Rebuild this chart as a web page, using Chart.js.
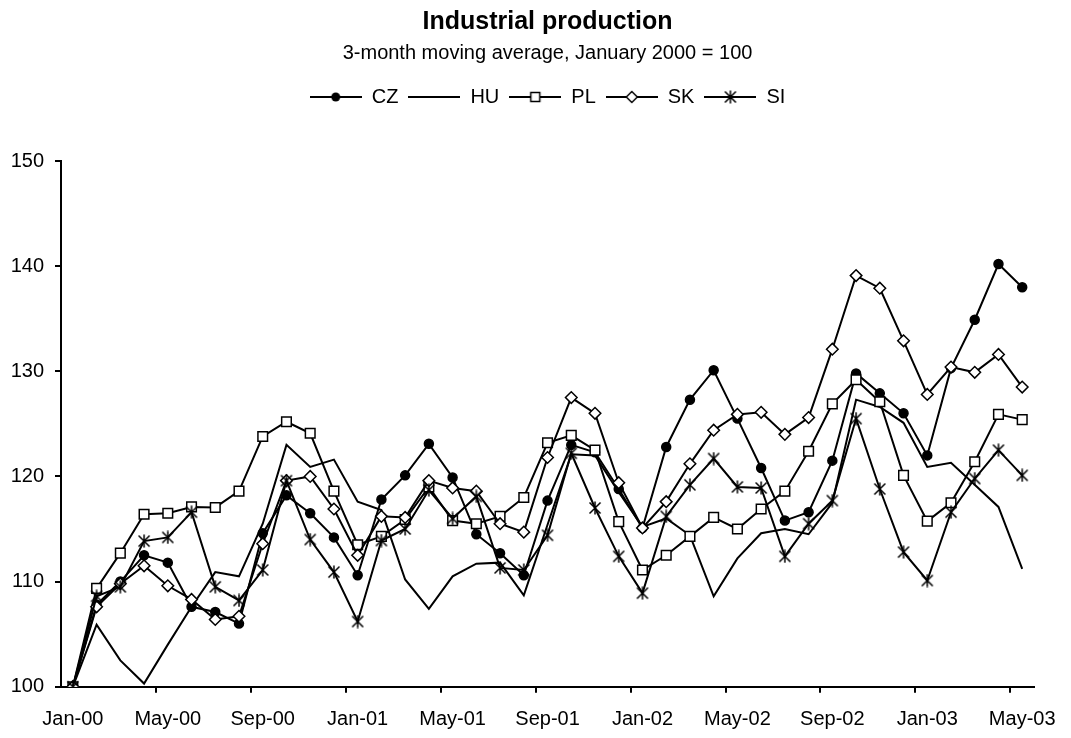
<!DOCTYPE html>
<html>
<head>
<meta charset="utf-8">
<title>Industrial production</title>
<script src="https://cdn.jsdelivr.net/npm/chart.js@4/dist/chart.umd.min.js"></script>
<style>
  html, body { margin: 0; padding: 0; background: #fff; }
  canvas { display: block; }
</style>
</head>
<body>
<canvas id="chart" width="1071" height="738"></canvas>
<script>
// months, Jan 2000 - May 2003
const months = [
  'Jan-00', 'Feb-00', 'Mar-00', 'Apr-00', 'May-00', 'Jun-00', 'Jul-00', 'Aug-00', 'Sep-00', 'Oct-00', 'Nov-00', 'Dec-00',
  'Jan-01', 'Feb-01', 'Mar-01', 'Apr-01', 'May-01', 'Jun-01', 'Jul-01', 'Aug-01', 'Sep-01', 'Oct-01', 'Nov-01', 'Dec-01',
  'Jan-02', 'Feb-02', 'Mar-02', 'Apr-02', 'May-02', 'Jun-02', 'Jul-02', 'Aug-02', 'Sep-02', 'Oct-02', 'Nov-02', 'Dec-02',
  'Jan-03', 'Feb-03', 'Mar-03', 'Apr-03', 'May-03'
];

const cz = [100, 107.8, 110.0, 112.5, 111.8, 107.6, 107.1, 106.0, 114.6, 118.2, 116.5, 114.2,
  110.6, 117.8, 120.1, 123.1, 119.9, 114.5, 112.7, 110.6, 117.7, 123.0, 122.3, 118.8,
  115.1, 122.8, 127.3, 130.1, 125.5, 120.8, 115.8, 116.6, 121.5, 129.8, 127.9, 126.0,
  122.0, 130.3, 134.9, 140.2, 138.0];
const hu = [100, 105.9, 102.5, 100.3, 104.0, 107.6, 110.9, 110.5, 115.5, 123.0, 120.9, 121.6,
  117.6, 116.8, 110.2, 107.4, 110.5, 111.7, 111.8, 108.7, 115.4, 122.1, 122.0, 118.5,
  115.2, 116.0, 114.4, 108.6, 112.2, 114.6, 115.0, 114.5, 117.5, 127.3, 126.6, 125.1,
  120.9, 121.3, 119.2, 117.1, 111.2];
const pl = [100, 109.35, 112.7, 116.4, 116.5, 117.1, 117.05, 118.6, 123.8, 125.2, 124.1, 118.6,
  113.5, 114.3, 115.9, 119.0, 115.8, 115.5, 116.2, 118.0, 123.2, 123.9, 122.5, 115.7,
  111.1, 112.5, 114.3, 116.1, 115.0, 116.9, 118.6, 122.4, 126.9, 129.2, 127.1, 120.1,
  115.75, 117.5, 121.4, 125.9, 125.4];
const sk = [100, 107.6, 109.8, 111.5, 109.6, 108.3, 106.4, 106.7, 113.6, 119.6, 120.0, 116.9,
  112.5, 116.2, 116.1, 119.6, 118.9, 118.6, 115.5, 114.7, 121.8, 127.5, 126.0, 119.4,
  115.1, 117.6, 121.2, 124.4, 125.9, 126.1, 124.0, 125.6, 132.1, 139.1, 137.9, 132.9,
  127.8, 130.4, 129.9, 131.6, 128.5];
const si = [100, 108.6, 109.5, 113.85, 114.2, 116.6, 109.5, 108.2, 111.1, 119.6, 114.0, 110.9,
  106.2, 113.9, 115.0, 118.7, 116.0, 118.1, 111.3, 111.1, 114.4, 122.2, 117.0, 112.4,
  108.9, 116.2, 119.2, 121.7, 119.0, 118.9, 112.4, 115.5, 117.7, 125.5, 118.8, 112.8,
  110.1, 116.6, 119.8, 122.5, 120.1];

const seriesNames = ['CZ', 'HU', 'PL', 'SK', 'SI'];
const markers = ['circle', false, 'rect', 'rectRot', 'star'];

Chart.defaults.font.family = '"Liberation Sans", Arial, sans-serif';
Chart.defaults.font.size = 20;
Chart.defaults.color = '#000';

// excel style star: vertical bar plus an X
function starMark() {
  const c = document.createElement('canvas');
  c.width = 14;
  c.height = 14;
  const g = c.getContext('2d');
  g.strokeStyle = '#000';
  g.lineWidth = 1.5;
  g.beginPath();
  g.moveTo(7, 0.5); g.lineTo(7, 13.5);
  g.moveTo(1.5, 1.5); g.lineTo(12.5, 12.5);
  g.moveTo(12.5, 1.5); g.lineTo(1.5, 12.5);
  g.stroke();
  return c;
}
const star = starMark();

// legend icon: a short line with the marker in the middle
function legendIcon(style) {
  const c = document.createElement('canvas');
  c.width = 52;
  c.height = 16;
  const g = c.getContext('2d');
  g.strokeStyle = '#000';
  g.lineWidth = 2;
  g.beginPath();
  g.moveTo(0, 8);
  g.lineTo(52, 8);
  g.stroke();
  g.lineWidth = 1.5;
  if (style === 'circle') {
    g.fillStyle = '#000';
    g.beginPath();
    g.arc(26, 8, 4.5, 0, Math.PI * 2);
    g.fill();
  } else if (style === 'rect') {
    g.fillStyle = '#fff';
    g.fillRect(21.5, 3.5, 9, 9);
    g.strokeRect(21.5, 3.5, 9, 9);
  } else if (style === 'rectRot') {
    g.fillStyle = '#fff';
    g.beginPath();
    g.moveTo(20.5, 8); g.lineTo(26, 2.5); g.lineTo(31.5, 8); g.lineTo(26, 13.5);
    g.closePath();
    g.fill();
    g.stroke();
  } else if (style === 'star') {
    g.drawImage(star, 19, 1);
  }
  return c;
}

const icons = markers.map(legendIcon);

// extra room between legend and plot
const legendGap = {
  id: 'legendGap',
  beforeInit(chart) {
    const fit = chart.legend.fit;
    chart.legend.fit = function () {
      fit.call(this);
      this.height += 44;
    };
  }
};

function series(i, values, radius, fill) {
  let style = markers[i] || 'circle';
  if (style === 'star') style = star;
  return {
    label: seriesNames[i],
    data: values,
    borderColor: '#000',
    borderWidth: 2,
    tension: 0,
    pointStyle: style,
    pointRadius: radius,
    pointBorderWidth: 1.5,
    pointBorderColor: '#000',
    pointBackgroundColor: fill,
    order: 5 - i
  };
}

new Chart(document.getElementById('chart'), {
  type: 'line',
  data: {
    labels: months,
    datasets: [
      series(0, cz, 4.5, '#000'),
      series(1, hu, 0, '#000'),
      series(2, pl, 6.8, '#fff'),
      series(3, sk, 5.8, '#fff'),
      series(4, si, 6.5, '#000')
    ]
  },
  options: {
    responsive: false,
    devicePixelRatio: 1,
    animation: false,
    events: [],
    layout: { padding: { top: 0, left: 8, right: 31, bottom: 0 } },
    plugins: {
      title: {
        display: true,
        fullSize: false,
        text: 'Industrial production',
        font: { size: 25, weight: 'bold' },
        padding: { top: 7, bottom: 3 }
      },
      subtitle: {
        display: true,
        fullSize: false,
        text: '3-month moving average, January 2000 = 100',
        font: { size: 20 },
        padding: { top: 1, bottom: 12 }
      },
      legend: {
        display: true,
        fullSize: false,
        labels: {
          usePointStyle: true,
          pointStyleWidth: 52,
          padding: 10,
          color: '#000',
          generateLabels: (chart) => chart.data.datasets.map((ds, i) => ({
            text: ds.label,
            pointStyle: icons[i],
            datasetIndex: i,
            fillStyle: '#fff',
            strokeStyle: '#000',
            lineWidth: 0,
            fontColor: '#000'
          }))
        }
      },
      tooltip: { enabled: false }
    },
    scales: {
      x: {
        offset: true,
        ticks: {
          autoSkip: false,
          maxRotation: 0,
          minRotation: 0,
          padding: 15,
          callback: (v, i) => (i % 4 === 0 ? months[i] : '')
        },
        grid: {
          offset: true,
          drawOnChartArea: false,
          tickLength: 6,
          lineWidth: 2,
          color: (c) => (c.index > 0 && c.index % 4 === 0 ? '#000' : 'rgba(0,0,0,0)')
        },
        border: { display: true, color: '#000', width: 2 },
        afterFit: (s) => { s.height = 51.3; }
      },
      y: {
        min: 100,
        max: 150,
        ticks: { stepSize: 10, padding: 11 },
        grid: { drawOnChartArea: false, tickLength: 6, lineWidth: 2, color: '#000' },
        border: { display: true, color: '#000', width: 2 },
        afterFit: (s) => { s.width = 53; }
      }
    }
  },
  plugins: [legendGap]
});
</script>
</body>
</html>
